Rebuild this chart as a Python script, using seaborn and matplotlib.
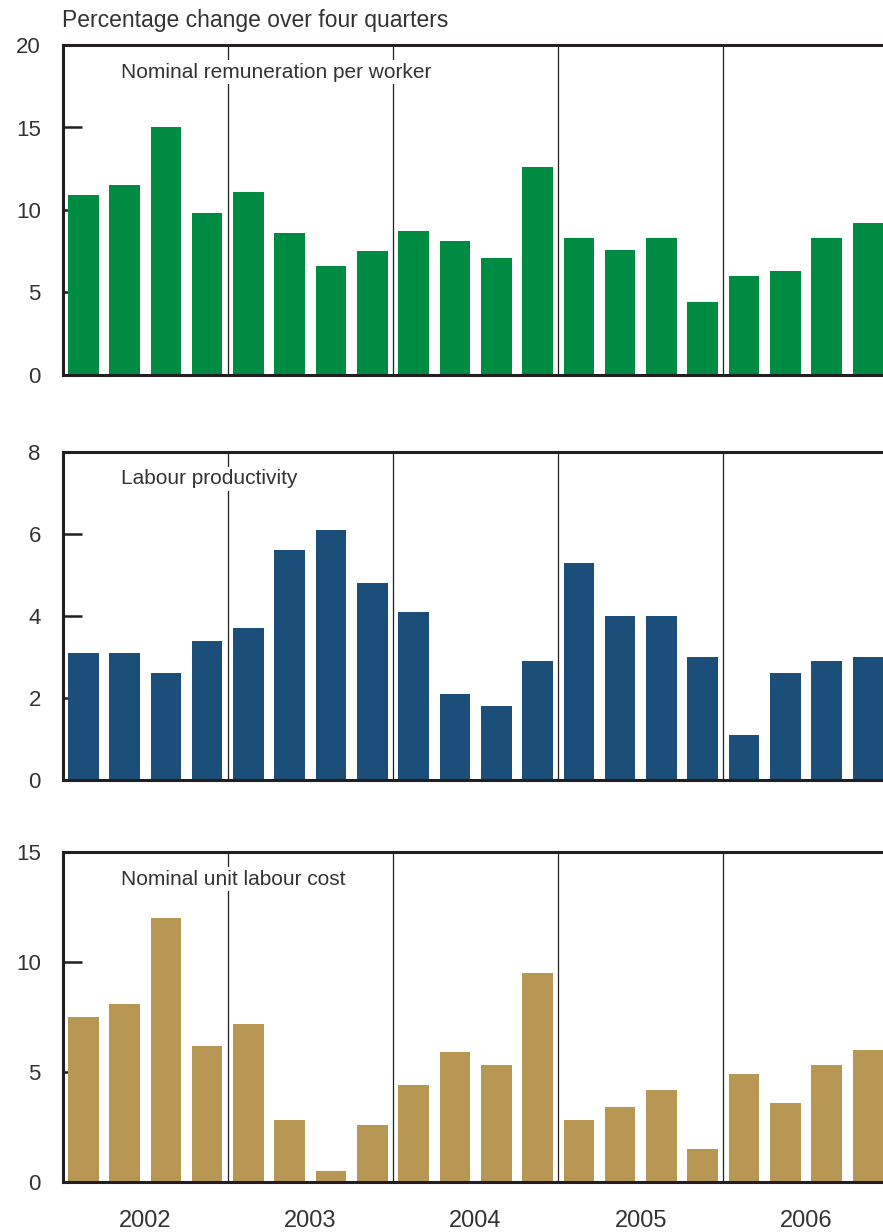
import matplotlib
matplotlib.use("Agg")
import matplotlib.pyplot as plt
import seaborn as sns
import pandas as pd

sns.set_theme(style="white")
plt.rcParams['font.family'] = ['Liberation Sans', 'DejaVu Sans']

quarters = [f"{y}Q{q}" for y in range(2002, 2007) for q in range(1, 5)]
years = ["2002", "2003", "2004", "2005", "2006"]

remuneration = [10.9, 11.5, 15.0, 9.8, 11.1, 8.6, 6.6, 7.5, 8.7, 8.1,
                7.1, 12.6, 8.3, 7.6, 8.3, 4.4, 6.0, 6.3, 8.3, 9.2]
productivity = [3.1, 3.1, 2.6, 3.4, 3.7, 5.6, 6.1, 4.8, 4.1, 2.1,
                1.8, 2.9, 5.3, 4.0, 4.0, 3.0, 1.1, 2.6, 2.9, 3.0]
unit_cost = [7.5, 8.1, 12.0, 6.2, 7.2, 2.8, 0.5, 2.6, 4.4, 5.9,
             5.3, 9.5, 2.8, 3.4, 4.2, 1.5, 4.9, 3.6, 5.3, 6.0]

titles = ["Nominal remuneration per worker", "Labour productivity", "Nominal unit labour cost"]
colors = ["#008b43", "#1b4f79", "#b89654"]
ymax = [20, 8, 15]
yticks = [[0, 5, 10, 15, 20], [0, 2, 4, 6, 8], [0, 5, 10, 15]]
series = [remuneration, productivity, unit_cost]

W, H = 883, 1232
fig = plt.figure(figsize=(W / 100, H / 100), dpi=100)
panel_px = [(45, 375), (452, 780), (852, 1182)]
left_px = 63
text_col = "#333333"
spine_col = "#231f20"

for i, (top, bot) in enumerate(panel_px):
    ax = fig.add_axes([left_px / W, 1 - bot / H, 1 - left_px / W, (bot - top) / H])
    df = pd.DataFrame({"quarter": quarters, "value": series[i]})
    sns.barplot(data=df, x="quarter", y="value", order=quarters, color=colors[i],
                saturation=1, width=0.74, linewidth=0, ax=ax, zorder=2)
    ax.set_xlim(-0.49, 19.365)
    ax.set_ylim(0, ymax[i])
    ax.set_yticks(yticks[i])
    ax.set_yticklabels([str(t) for t in yticks[i]])
    for x in [3.5, 7.5, 11.5, 15.5]:
        ax.axvline(x, color=spine_col, lw=0.9, zorder=1)
    for s in ["top", "left", "bottom"]:
        ax.spines[s].set_visible(True)
        ax.spines[s].set_color(spine_col)
        ax.spines[s].set_linewidth(2.2)
        ax.spines[s].set_zorder(5)
    ax.spines["right"].set_visible(False)
    ax.tick_params(axis="y", direction="in", length=14, width=1.8, color=spine_col,
                   pad=16, labelsize=16, labelcolor=text_col, left=True)
    ax.set_xlabel("")
    ax.set_ylabel("")
    ax.text(0.0707, 0.918, titles[i], transform=ax.transAxes, fontsize=15,
            color=text_col, va="center", ha="left", zorder=4,
            bbox=dict(facecolor="white", edgecolor="none", pad=2))
    if i == 2:
        ax.set_xticks([1.5, 5.5, 9.5, 13.5, 17.5])
        ax.set_xticklabels(years)
        ax.tick_params(axis="x", length=0, pad=20, labelsize=17, labelcolor=text_col)
    else:
        ax.set_xticks([])

fig.text(62 / W, 1 - 21 / H, "Percentage change over four quarters", fontsize=16.5,
         color=text_col, ha="left", va="center")

fig.savefig("out.png", dpi=100)
